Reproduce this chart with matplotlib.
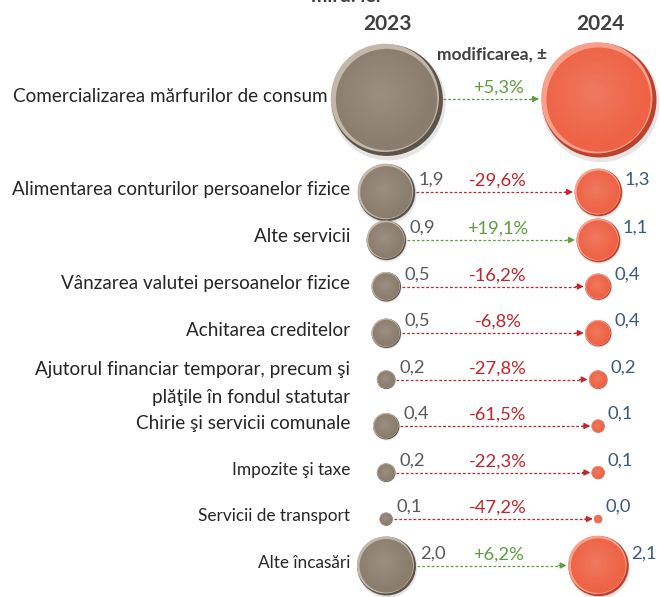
import numpy as np
import matplotlib
matplotlib.use("Agg")
import matplotlib.pyplot as plt
from matplotlib.patches import Circle

plt.rcParams['font.family'] = ['Lato', 'DejaVu Sans']

# ---------------- data ----------------
categories = [
    "Comercializarea mărfurilor de consum",
    "Alimentarea conturilor persoanelor fizice",
    "Alte servicii",
    "Vânzarea valutei persoanelor fizice",
    "Achitarea creditelor",
    "Ajutorul financiar temporar, precum şi\nplăţile în fondul statutar",
    "Chirie şi servicii comunale",
    "Impozite şi taxe",
    "Servicii de transport",
    "Alte încasări",
]
values_2023 = [7.2, 1.9, 0.9, 0.5, 0.5, 0.2, 0.4, 0.2, 0.1, 2.0]
values_2024 = [7.6, 1.3, 1.1, 0.4, 0.4, 0.2, 0.1, 0.1, 0.0, 2.1]
change_pct = [5.3, -29.6, 19.1, -16.2, -6.8, -27.8, -61.5, -22.3, -47.2, 6.2]
year_labels = ["2023", "2024"]

# ---------------- layout ----------------
W, H = 661, 597
fig = plt.figure(figsize=(W / 100, H / 100), dpi=100)
ax = fig.add_axes([0, 0, 1, 1])
ax.set_xlim(0, W)
ax.set_ylim(H, 0)
ax.axis('off')

x_left, x_right = 386, 598
row_y = [99, 192] + [240 + 46.5 * (i - 2) for i in range(2, len(categories))]
k = 21.0  # radius scale (area ~ value)


def radius(v):
    return k * np.sqrt(max(v, 0.04))


def fmt(v):
    return f"{v:.1f}".replace('.', ',')


GRAY = dict(base="#8b7d6e", light="#c2b8aa", dark="#5e5348")
ORNG = dict(base="#ee6346", light="#f9a08a", dark="#b9432e")


def draw_ball(cx, cy, r, c):
    # soft shadow
    ax.add_patch(Circle((cx + r * 0.04, cy + r * 0.07), r * 1.02,
                        color="#000000", alpha=0.10, lw=0, zorder=1))
    # dark lower-right edge
    ax.add_patch(Circle((cx + r * 0.02, cy + r * 0.02), r * 0.99,
                        color=c["dark"], lw=0, zorder=2))
    # light upper-left rim
    ax.add_patch(Circle((cx - r * 0.02, cy - r * 0.02), r * 0.96,
                        color=c["light"], lw=0, zorder=3))
    ax.add_patch(Circle((cx + r * 0.01, cy + r * 0.01), r * 0.9,
                        color=c["base"], lw=0, zorder=4))
    # subtle radial gradient inside
    n = 64
    yy, xx = np.mgrid[-1:1:n * 1j, -1:1:n * 1j]
    d = np.sqrt((xx + 0.1) ** 2 + (yy + 0.1) ** 2)
    img = np.clip(1 - d, 0, 1)
    ri = r * 0.9
    im = ax.imshow(img, extent=(cx - ri, cx + ri, cy + ri, cy - ri),
                   cmap=matplotlib.colors.LinearSegmentedColormap.from_list(
                       "g", [(1, 1, 1, 0), (1, 1, 1, 0.14)]),
                   zorder=5, interpolation='bilinear')
    clip = Circle((cx + r * 0.01, cy + r * 0.01), ri, transform=ax.transData)
    im.set_clip_path(clip)


# headers
ax.text(x_left + 2, 24, year_labels[0], ha='center', va='center', fontsize=15,
        fontweight='bold', color='#404040')
ax.text(x_right + 2, 24, year_labels[1], ha='center', va='center', fontsize=15,
        fontweight='bold', color='#404040')
ax.text(492, 55, "modificarea, ±", ha='center', va='center', fontsize=12.5,
        fontweight='bold', color='#404040')
ax.text(346, -3, "mlrd. lei", ha='center', va='center', fontsize=14,
        fontweight='bold', color='#404040')

for i, cat in enumerate(categories):
    y = row_y[i]
    v1, v2, p = values_2023[i], values_2024[i], change_pct[i]
    r1, r2 = radius(v1), radius(v2)
    draw_ball(x_left, y, r1, GRAY)
    draw_ball(x_right, y, r2, ORNG)

    # category label
    lab_x = min(350, x_left - r1 - 2)
    fs = 13.6 if i < 7 else 12.4
    multi = "\n" in cat
    ax.text(lab_x, y + (4 if multi else -3), cat, ha='right', va='center', fontsize=fs,
            color='#262626', linespacing=1.75 if multi else 1.2)

    # value labels
    if i == 0:
        ax.text(x_left, y, fmt(v1), ha='center', va='center', fontsize=14, color='white')
        ax.text(x_right, y, fmt(v2), ha='center', va='center', fontsize=14, color='white')
    else:
        ax.text(x_left + r1 + 4, y - 12, fmt(v1), ha='left', va='center',
                fontsize=13.2, color='#595959')
        ax.text(x_right + r2 + 3, y - 12, fmt(v2), ha='left', va='center',
                fontsize=13.2, color='#3b5a7a')

    # arrow and change label
    col = '#5e9e3c' if p >= 0 else '#c0262d'
    xs, xe = x_left + r1 + 1, x_right - r2 - 1
    ax.plot([xs, xe - 6], [y, y], color=col, lw=0.9, ls=(0, (2.2, 1.6)), zorder=6)
    ax.annotate('', xy=(xe, y), xytext=(xe - 8, y),
                arrowprops=dict(arrowstyle='-|>', color=col, lw=0.9,
                                mutation_scale=9, shrinkA=0, shrinkB=0), zorder=6)
    s = (f"+{p:.1f}%" if p >= 0 else f"{p:.1f}%").replace('.', ',')
    ax.text(498, y - 11, s, ha='center', va='center', fontsize=13.2, color=col)

fig.savefig("out.png", dpi=100)
